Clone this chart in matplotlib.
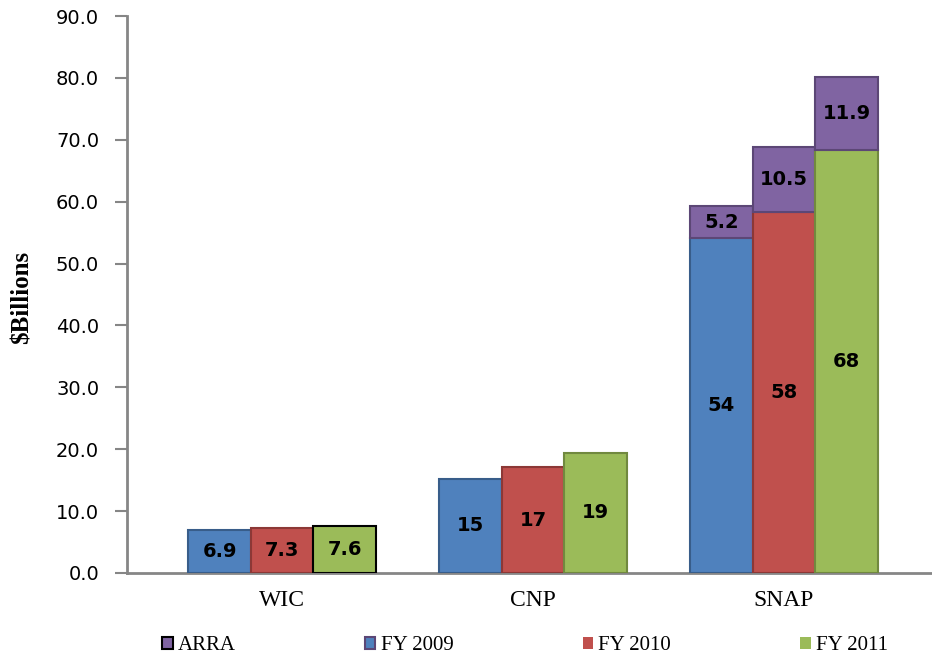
import matplotlib
matplotlib.use("Agg")
import matplotlib.pyplot as plt
from matplotlib.patches import Patch
import numpy as np

# ---- data ----
categories = ["WIC", "CNP", "SNAP"]
fy2009 = [6.9, 15.2, 54.1]
fy2010 = [7.3, 17.1, 58.3]
fy2011 = [7.6, 19.4, 68.3]
arra2009 = [0.0, 0.0, 5.2]
arra2010 = [0.0, 0.0, 10.5]
arra2011 = [0.0, 0.0, 11.9]
fy2009_labels = ["6.9", "15", "54"]
fy2010_labels = ["7.3", "17", "58"]
fy2011_labels = ["7.6", "19", "68"]
arra_labels = [["", "", "5.2"], ["", "", "10.5"], ["", "", "11.9"]]
yticks = [0, 10, 20, 30, 40, 50, 60, 70, 80, 90]
legend_labels = ["ARRA", "FY 2009", "FY 2010", "FY 2011"]

# ---- styles ----
blue, blue_e = "#4F81BD", "#385D8A"
red, red_e = "#C0504D", "#8C3836"
green, green_e = "#9BBB59", "#71893F"
purple, purple_e = "#8064A2", "#5C4776"

fig = plt.figure(figsize=(9.32, 6.6), dpi=100)
ax = fig.add_axes([127/932, 1-573/660, 1-127/932, (573-16)/660])

x = np.arange(len(categories))
w = 0.249
offsets = [-w, 0, w]
series = [(fy2009, blue, blue_e, fy2009_labels),
          (fy2010, red, red_e, fy2010_labels),
          (fy2011, green, green_e, fy2011_labels)]
arras = [arra2009, arra2010, arra2011]

for i, (vals, col, ecol, labs) in enumerate(series):
    edgecols = [ecol] * len(vals)
    if i == 2:
        edgecols[0] = "black"
    bars = ax.bar(x + offsets[i], vals, width=w, color=col,
                  edgecolor=edgecols, linewidth=1.5, zorder=3)
    ax.bar_label(bars, labels=labs, label_type="center",
                 fontsize=14, fontweight="bold", color="black",
                 family="DejaVu Sans")
    a = arras[i]
    mask = np.array(a) > 0
    abars = ax.bar((x + offsets[i])[mask], np.array(a)[mask], width=w,
                   bottom=np.array(vals)[mask], color=purple,
                   edgecolor=purple_e, linewidth=1.5, zorder=3)
    ax.bar_label(abars, labels=[l for l, m in zip(arra_labels[i], mask) if m],
                 label_type="center", fontsize=14, fontweight="bold",
                 color="black", family="DejaVu Sans")

ax.set_xlim(-0.618, 2.59)
ax.set_ylim(0, 90)
ax.set_yticks(yticks)
ax.set_yticklabels([f"{v:.1f}" for v in yticks], fontsize=14,
                   family="DejaVu Sans")
ax.set_xticks(x)
ax.set_xticklabels(categories, fontsize=17, family="Liberation Serif")
ax.tick_params(axis="x", length=0, pad=12)
ax.tick_params(axis="y", length=9, width=1.5, color="#868686",
               direction="out", pad=11)
for s in ["top", "right"]:
    ax.spines[s].set_visible(False)
for s in ["left", "bottom"]:
    ax.spines[s].set_color("#868686")
    ax.spines[s].set_linewidth(2)

fig.text(22/932, 1-297/660, "$Billions", rotation=90, ha="center",
         va="center", fontsize=18, fontweight="bold",
         family="Liberation Serif")

handles = [Patch(facecolor=purple, edgecolor="black", linewidth=1.5),
           Patch(facecolor=blue, edgecolor=purple_e, linewidth=1.5),
           Patch(facecolor=red, edgecolor=red, linewidth=0),
           Patch(facecolor=green, edgecolor=green, linewidth=0)]
fig.legend(handles, legend_labels, loc="center",
           bbox_to_anchor=(525/932, 1-646/660), ncol=4, frameon=False,
           prop={"family": "Liberation Serif", "size": 15},
           handlelength=0.5, handleheight=0.5, handletextpad=0.25,
           columnspacing=6.2)

fig.savefig("out.png", dpi=100)
